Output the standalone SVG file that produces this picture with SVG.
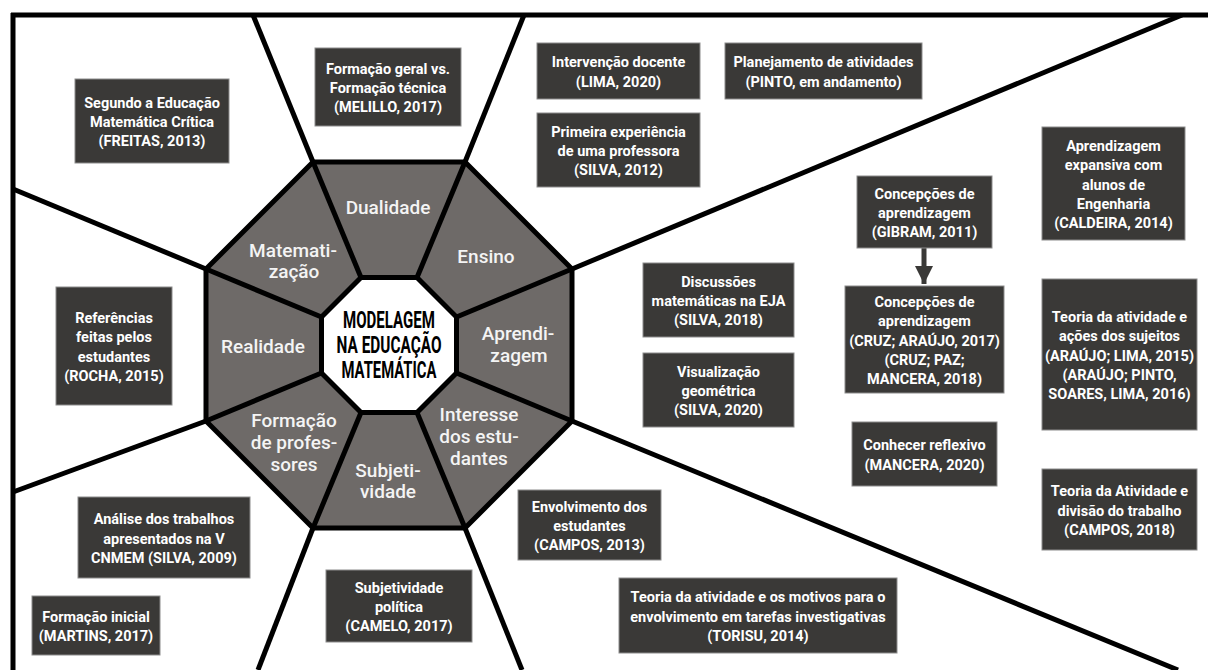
<svg xmlns="http://www.w3.org/2000/svg" width="1208" height="670" viewBox="0 0 1208 670">
<defs>
<style>
.box rect{fill:#3a3937;stroke:#8c8c8c;stroke-width:1}
.bt{font-family:Roboto,"DejaVu Sans",sans-serif;font-weight:700;font-size:14.5px;fill:#ffffff;text-anchor:middle}
.seg{font-family:Roboto,"DejaVu Sans",sans-serif;font-weight:500;font-size:19px;fill:#f4f4f4;text-anchor:middle}
.ctr{font-family:Roboto,"DejaVu Sans",sans-serif;font-weight:700;font-size:23px;fill:#000;text-anchor:middle}
.ln{stroke:#000;stroke-width:5;fill:none}
</style>
<marker id="ah" viewBox="0 0 10 10" refX="10" refY="5" markerWidth="3.6" markerHeight="3.6" orient="auto" markerUnits="strokeWidth">
<path d="M0,0 L10,5 L0,10 Z" fill="#3a3937"/>
</marker>
</defs>
<rect width="1208" height="670" fill="#fff"/>

<g id="connectors">
<line class="ln" x1="11" y1="15" x2="1208" y2="15"/>
<line class="ln" x1="13" y1="13" x2="13" y2="670"/>
<line class="ln" x1="313" y1="162" x2="253" y2="15"/>
<line class="ln" x1="465" y1="162" x2="524" y2="15"/>
<line class="ln" x1="572" y1="269" x2="1182" y2="15"/>
<line class="ln" x1="572" y1="421" x2="1178" y2="670"/>
<line class="ln" x1="465" y1="528" x2="522" y2="670"/>
<line class="ln" x1="313" y1="528" x2="258" y2="670"/>
<line class="ln" x1="206" y1="421" x2="13" y2="492"/>
<line class="ln" x1="206" y1="269" x2="13" y2="189"/>
<line x1="924" y1="248" x2="924" y2="284" stroke="#3a3937" stroke-width="5" marker-end="url(#ah)"/>
</g>

<g id="octagon">
<polygon points="313,162 465,162 572,269 572,421 465,528 313,528 206,421 206,269" fill="#6e6a68" stroke="#000" stroke-width="5" stroke-linejoin="miter"/>
<g class="ln">
<line x1="361" y1="277.5" x2="313" y2="162"/>
<line x1="417" y1="277.5" x2="465" y2="162"/>
<line x1="456.5" y1="317" x2="572" y2="269"/>
<line x1="456.5" y1="373" x2="572" y2="421"/>
<line x1="417" y1="412.5" x2="465" y2="528"/>
<line x1="361" y1="412.5" x2="313" y2="528"/>
<line x1="321.5" y1="373" x2="206" y2="421"/>
<line x1="321.5" y1="317" x2="206" y2="269"/>
</g>
<polygon points="361,277.5 417,277.5 456.5,317 456.5,373 417,412.5 361,412.5 321.5,373 321.5,317" fill="#fff" stroke="#000" stroke-width="5"/>
</g>

<g id="center">
<text class="ctr"><tspan x="389" y="328" textLength="92" lengthAdjust="spacingAndGlyphs">MODELAGEM</tspan><tspan x="389" y="353" textLength="105" lengthAdjust="spacingAndGlyphs">NA EDUCAÇÃO</tspan><tspan x="389" y="378" textLength="95" lengthAdjust="spacingAndGlyphs">MATEMÁTICA</tspan></text>
</g>

<g id="seg-dualidade"><text class="seg" x="388" y="214">Dualidade</text></g>
<g id="seg-ensino"><text class="seg" x="486" y="263">Ensino</text></g>
<g id="seg-matematizacao"><text class="seg"><tspan x="293" y="257">Matemati-</tspan><tspan x="294" y="278">zação</tspan></text></g>
<g id="seg-realidade"><text class="seg" x="263" y="353">Realidade</text></g>
<g id="seg-aprendizagem"><text class="seg"><tspan x="518" y="340">Aprendi-</tspan><tspan x="519" y="362">zagem</tspan></text></g>
<g id="seg-interesse"><text class="seg"><tspan x="479" y="421">Interesse</tspan><tspan x="479" y="443">dos estu-</tspan><tspan x="479" y="465">dantes</tspan></text></g>
<g id="seg-formacao"><text class="seg"><tspan x="294" y="427">Formação</tspan><tspan x="294" y="449">de profes-</tspan><tspan x="294" y="471">sores</tspan></text></g>
<g id="seg-subjetividade"><text class="seg"><tspan x="388" y="477">Subjeti-</tspan><tspan x="388" y="498">vidade</tspan></text></g>

<g id="n-freitas" class="box"><rect x="75" y="79" width="154" height="84"/><text class="bt"><tspan x="152" y="107.7">Segundo a Educação</tspan><tspan x="152" y="127">Matemática Crítica</tspan><tspan x="152" y="146.3">(FREITAS, 2013)</tspan></text></g>
<g id="n-melillo" class="box"><rect x="315" y="48" width="146" height="78"/><text class="bt"><tspan x="388" y="73.7">Formação geral vs.</tspan><tspan x="388" y="93">Formação técnica</tspan><tspan x="388" y="112.3">(MELILLO, 2017)</tspan></text></g>
<g id="n-lima2020" class="box"><rect x="537" y="43" width="163" height="56"/><text class="bt"><tspan x="618.5" y="67.4">Intervenção docente</tspan><tspan x="618.5" y="86.7">(LIMA, 2020)</tspan></text></g>
<g id="n-pinto" class="box"><rect x="725" y="43" width="197" height="56"/><text class="bt"><tspan x="823.5" y="67.4">Planejamento de atividades</tspan><tspan x="823.5" y="86.7">(PINTO, em andamento)</tspan></text></g>
<g id="n-silva2012" class="box"><rect x="537" y="113" width="163" height="74"/><text class="bt"><tspan x="618.5" y="136.7">Primeira experiência</tspan><tspan x="618.5" y="156">de uma professora</tspan><tspan x="618.5" y="175.3">(SILVA, 2012)</tspan></text></g>
<g id="n-caldeira" class="box"><rect x="1042" y="127" width="143" height="113"/><text class="bt"><tspan x="1113.5" y="150.9">Aprendizagem</tspan><tspan x="1113.5" y="170.2">expansiva com</tspan><tspan x="1113.5" y="189.5">alunos de</tspan><tspan x="1113.5" y="208.8">Engenharia</tspan><tspan x="1113.5" y="228.1">(CALDEIRA, 2014)</tspan></text></g>
<g id="n-gibram" class="box"><rect x="857" y="176" width="135" height="72"/><text class="bt"><tspan x="924.5" y="198.7">Concepções de</tspan><tspan x="924.5" y="218">aprendizagem</tspan><tspan x="924.5" y="237.3">(GIBRAM, 2011)</tspan></text></g>
<g id="n-silva2018" class="box"><rect x="643" y="263" width="151" height="74"/><text class="bt"><tspan x="718.5" y="286.7">Discussões</tspan><tspan x="718.5" y="306">matemáticas na EJA</tspan><tspan x="718.5" y="325.3">(SILVA, 2018)</tspan></text></g>
<g id="n-silva2020" class="box"><rect x="643" y="353" width="151" height="74"/><text class="bt"><tspan x="718.5" y="376.7">Visualização</tspan><tspan x="718.5" y="396">geométrica</tspan><tspan x="718.5" y="415.3">(SILVA, 2020)</tspan></text></g>
<g id="n-cruz" class="box"><rect x="845" y="286" width="159" height="107"/><text class="bt"><tspan x="924.5" y="306.9">Concepções de</tspan><tspan x="924.5" y="326.2">aprendizagem</tspan><tspan x="924.5" y="345.5">(CRUZ; ARAÚJO, 2017)</tspan><tspan x="924.5" y="364.8">(CRUZ; PAZ;</tspan><tspan x="924.5" y="384.1">MANCERA, 2018)</tspan></text></g>
<g id="n-araujo" class="box"><rect x="1042" y="279" width="155" height="151"/><text class="bt"><tspan x="1119.5" y="321.9">Teoria da atividade e</tspan><tspan x="1119.5" y="341.2">ações dos sujeitos</tspan><tspan x="1119.5" y="360.5">(ARAÚJO; LIMA, 2015)</tspan><tspan x="1119.5" y="379.8">(ARAÚJO; PINTO,</tspan><tspan x="1119.5" y="399.1">SOARES, LIMA, 2016)</tspan></text></g>
<g id="n-mancera" class="box"><rect x="852" y="422" width="145" height="64"/><text class="bt"><tspan x="924.5" y="450.4">Conhecer reflexivo</tspan><tspan x="924.5" y="469.7">(MANCERA, 2020)</tspan></text></g>
<g id="n-campos2018" class="box"><rect x="1042" y="469" width="155" height="81"/><text class="bt"><tspan x="1119.5" y="496.2">Teoria da Atividade e</tspan><tspan x="1119.5" y="515.5">divisão do trabalho</tspan><tspan x="1119.5" y="534.8">(CAMPOS, 2018)</tspan></text></g>
<g id="n-rocha" class="box"><rect x="56" y="287" width="116" height="118"/><text class="bt"><tspan x="114" y="323">Referências</tspan><tspan x="114" y="342.4">feitas pelos</tspan><tspan x="114" y="361.7">estudantes</tspan><tspan x="114" y="381">(ROCHA, 2015)</tspan></text></g>
<g id="n-silva2009" class="box"><rect x="78" y="497" width="172" height="81"/><text class="bt"><tspan x="164" y="524.2">Análise dos trabalhos</tspan><tspan x="164" y="543.5">apresentados na V</tspan><tspan x="164" y="562.8">CNMEM (SILVA, 2009)</tspan></text></g>
<g id="n-martins" class="box"><rect x="32" y="596" width="128" height="59"/><text class="bt"><tspan x="96" y="621.9">Formação inicial</tspan><tspan x="96" y="641.2">(MARTINS, 2017)</tspan></text></g>
<g id="n-camelo" class="box"><rect x="326" y="570" width="146" height="72"/><text class="bt"><tspan x="399" y="592.7">Subjetividade</tspan><tspan x="399" y="612">política</tspan><tspan x="399" y="631.3">(CAMELO, 2017)</tspan></text></g>
<g id="n-campos2013" class="box"><rect x="518" y="490" width="143" height="70"/><text class="bt"><tspan x="589.5" y="511.7">Envolvimento dos</tspan><tspan x="589.5" y="531">estudantes</tspan><tspan x="589.5" y="550.3">(CAMPOS, 2013)</tspan></text></g>
<g id="n-torisu" class="box"><rect x="619" y="578" width="278" height="75"/><text class="bt"><tspan x="758" y="602.2">Teoria da atividade e os motivos para o</tspan><tspan x="758" y="621.5">envolvimento em tarefas investigativas</tspan><tspan x="758" y="640.8">(TORISU, 2014)</tspan></text></g>
</svg>
